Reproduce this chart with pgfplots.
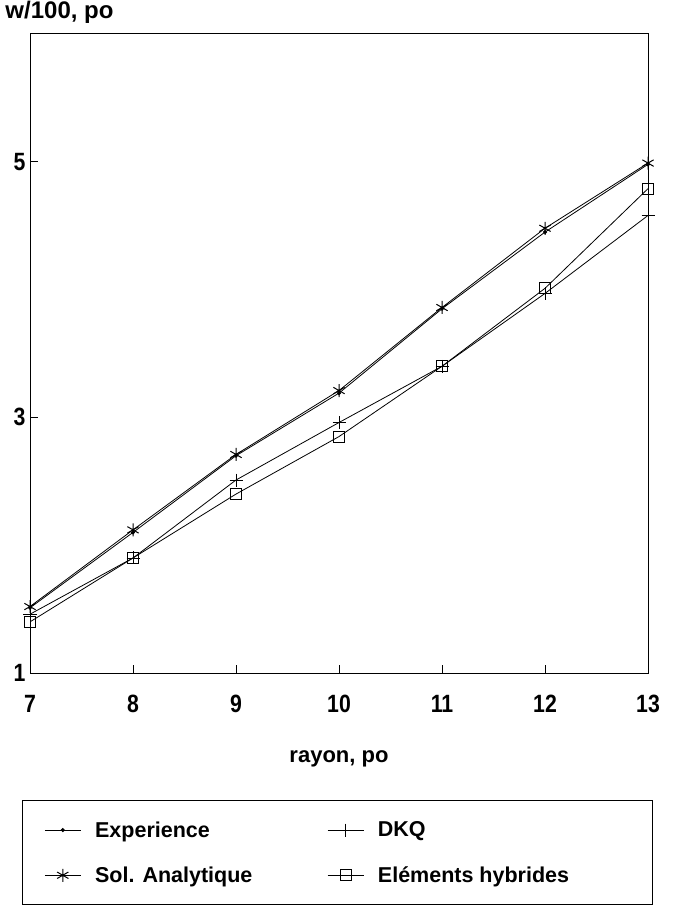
\documentclass[border=0pt]{standalone}
\usepackage{fontspec}
\setmainfont{Liberation Sans}
\newfontfamily\tickfont{Liberation Sans}[FakeStretch=0.85]
\usepackage{pgfplots}
\pgfplotsset{compat=1.18}
\begin{document}
\begin{tikzpicture}
\path[use as bounding box] (-30bp,-244bp) rectangle (657bp,673bp);
\begin{axis}[
  scale only axis,
  clip mode=individual,
  width=618bp, height=639bp,
  xmin=7, xmax=13, ymin=1, ymax=6,
  xtick={7,8,9,10,11,12,13},
  ytick={1,3,5},
  tick align=inside,
  xtick pos=left, ytick pos=left,
  major tick length=8bp,
  axis line style={line width=1bp},
  every tick/.style={black, line width=0.8bp},
  /pgf/number format/assume math mode=true,
  tick label style={font=\bfseries\tickfont\fontsize{25bp}{29bp}\selectfont},
  xticklabel style={yshift=-19bp},
  yticklabel style={xshift=-1bp},
  xlabel={\bfseries\fontsize{22bp}{26bp}\selectfont rayon, po},
  xlabel style={yshift=-31bp},
  legend columns=2,
  legend cell align=left,
  legend image code/.code={\draw[#1, mark repeat=2, mark phase=2] plot coordinates {(0bp,0bp) (18bp,0bp) (36bp,0bp)};},
  legend style={draw=black, line width=0.8bp, at={(-0.013,-0.199)}, anchor=north west,
    font=\bfseries\fontsize{21.5bp}{25bp}\selectfont,
    inner xsep=22bp, inner ysep=19bp, row sep=24bp,
    /tikz/every odd column/.append style={column sep=12bp},
    /tikz/every even column/.append style={column sep=8bp}},
]
\addplot[black, line width=0.8bp, mark=*, mark size=1.6bp] coordinates {
(7,1.51) (8,2.10) (9,2.70) (10,3.19) (11,3.85) (12,4.45) (13,4.98)};
\addlegendentry{\makebox[222bp][l]{Experience}}
\addplot[black, line width=0.8bp, mark=+, mark size=6.5bp, mark options={line width=0.8bp}] coordinates {
(7,1.46) (8,1.90) (9,2.51) (10,2.96) (11,3.40) (12,3.97) (13,4.58)};
\addlegendentry{\makebox[250bp][l]{DKQ}}
\addplot[black, line width=0.8bp, mark=asterisk, mark size=6.5bp, mark options={line width=1bp}] coordinates {
(7,1.52) (8,2.12) (9,2.71) (10,3.21) (11,3.86) (12,4.48) (13,4.99)};
\addlegendentry{\makebox[222bp][l]{Sol. Analytique}}
\addplot[black, line width=0.8bp, mark=square, mark size=5.5bp, mark options={line width=0.8bp}] coordinates {
(7,1.40) (8,1.90) (9,2.40) (10,2.85) (11,3.40) (12,4.01) (13,4.79)};
\addlegendentry{\makebox[250bp][l]{Eléments hybrides}}
\node[anchor=base west, font=\bfseries\fontsize{24bp}{28bp}\selectfont, inner sep=0pt] at (rel axis cs:-0.04,1.025) {w/100, po};
\end{axis}
\end{tikzpicture}
\end{document}
